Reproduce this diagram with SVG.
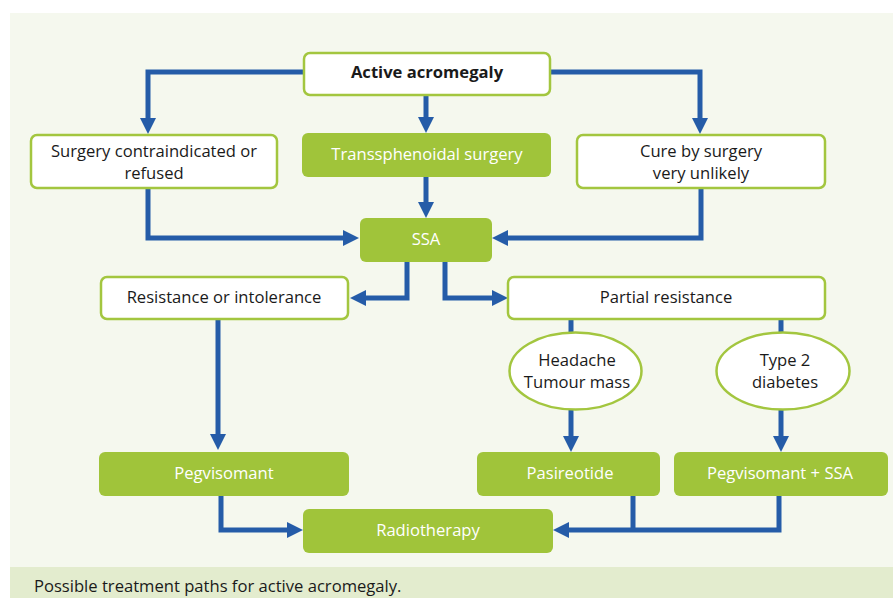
<svg xmlns="http://www.w3.org/2000/svg" width="893" height="598" viewBox="0 0 893 598">
<style>
.w{fill:#ffffff;stroke:#a3c63f;stroke-width:2.5}
.g{fill:#a0c43a}
.t{font-family:"Open Sans","Noto Sans",sans-serif;font-size:16.6px;text-anchor:middle;fill:#1a1a1a}
.tw{font-family:"Open Sans","Noto Sans",sans-serif;font-size:16.6px;text-anchor:middle;fill:#ffffff}
.c{fill:none;stroke:#255ca8;stroke-width:5;stroke-linejoin:miter}
</style>
<defs>
<marker id="ah" markerUnits="userSpaceOnUse" markerWidth="18" markerHeight="16" refX="6" refY="8" orient="auto">
<path d="M0,0 L16,8 L0,16 z" fill="#255ca8"/>
</marker>
</defs>
<rect x="0" y="0" width="893" height="598" fill="#ffffff"/>
<rect x="10" y="13" width="883" height="554" fill="#f5f8ee"/>
<rect x="10" y="567" width="883" height="31" fill="#e3ecce"/>
<text x="34" y="592" font-family="'Open Sans','Noto Sans',sans-serif" font-size="16.6" fill="#1a1a1a">Possible treatment paths for active acromegaly.</text>

<g id="connectors">
<path class="c" d="M303,72 H148 V124" marker-end="url(#ah)"/>
<path class="c" d="M426,96 V123" marker-end="url(#ah)"/>
<path class="c" d="M550,72 H700 V124" marker-end="url(#ah)"/>
<path class="c" d="M148,188 V238 H349" marker-end="url(#ah)"/>
<path class="c" d="M426,177 V208" marker-end="url(#ah)"/>
<path class="c" d="M701,188 V238 H502" marker-end="url(#ah)"/>
<path class="c" d="M407,262 V298 H360" marker-end="url(#ah)"/>
<path class="c" d="M445,262 V298 H498" marker-end="url(#ah)"/>
<path class="c" d="M218,319 V440" marker-end="url(#ah)"/>
<path class="c" d="M571,319 V333"/>
<path class="c" d="M781,319 V333"/>
<path class="c" d="M571,410 V442" marker-end="url(#ah)"/>
<path class="c" d="M781,410 V442" marker-end="url(#ah)"/>
<path class="c" d="M221,496 V530 H293" marker-end="url(#ah)"/>
<path class="c" d="M633,496 V530"/>
<path class="c" d="M779,496 V530 H563" marker-end="url(#ah)"/>
</g>

<g id="n-active"><rect class="w" x="304" y="53" width="246" height="42" rx="6"/><text class="t" x="427" y="78" font-weight="bold">Active acromegaly</text></g>
<g id="n-contra"><rect class="w" x="31" y="135" width="246" height="53" rx="6"/><text class="t" x="154" y="157">Surgery contraindicated or</text><text class="t" x="154" y="179">refused</text></g>
<g id="n-trans"><rect class="g" x="302" y="133" width="249" height="44" rx="6"/><text class="tw" x="427" y="160">Transsphenoidal surgery</text></g>
<g id="n-cure"><rect class="w" x="577" y="135" width="248" height="53" rx="6"/><text class="t" x="701" y="157">Cure by surgery</text><text class="t" x="701" y="179">very unlikely</text></g>
<g id="n-ssa"><rect class="g" x="360" y="218" width="132" height="44" rx="6"/><text class="tw" x="426" y="245">SSA</text></g>
<g id="n-resist"><rect class="w" x="101" y="277" width="247" height="42" rx="6"/><text class="t" x="224" y="303">Resistance or intolerance</text></g>
<g id="n-partial"><rect class="w" x="508" y="277" width="317" height="42" rx="6"/><text class="t" x="666" y="303">Partial resistance</text></g>
<g id="n-headache"><ellipse class="w" cx="575.5" cy="371" rx="66" ry="38.5"/><text class="t" x="577" y="366">Headache</text><text class="t" x="577" y="388">Tumour mass</text></g>
<g id="n-diabetes"><ellipse class="w" cx="783" cy="371" rx="66.5" ry="38.5"/><text class="t" x="785" y="366">Type 2</text><text class="t" x="785" y="388">diabetes</text></g>
<g id="n-peg"><rect class="g" x="99" y="452" width="250" height="44" rx="6"/><text class="tw" x="224" y="479">Pegvisomant</text></g>
<g id="n-pasi"><rect class="g" x="477" y="452" width="183" height="44" rx="6"/><text class="tw" x="570" y="479">Pasireotide</text></g>
<g id="n-pegssa"><rect class="g" x="674" y="452" width="214" height="44" rx="6"/><text class="tw" x="780" y="479">Pegvisomant + SSA</text></g>
<g id="n-radio"><rect class="g" x="303" y="509" width="250" height="44" rx="6"/><text class="tw" x="428" y="536">Radiotherapy</text></g>
</svg>
